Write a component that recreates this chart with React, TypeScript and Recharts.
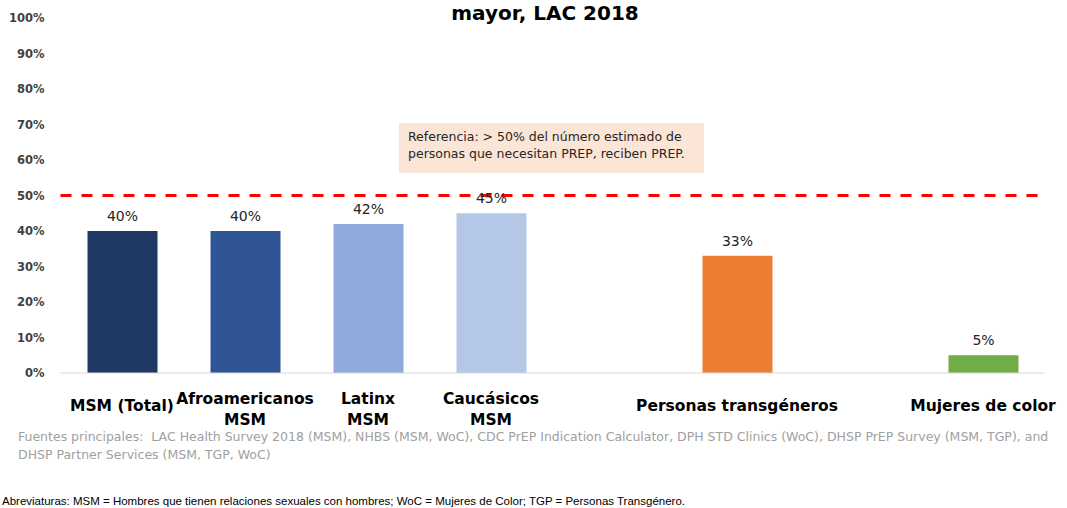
import React from 'react'
import { Bar, BarChart, Cell, LabelList, ReferenceLine, XAxis, YAxis } from 'recharts'

const categories = ['MSM (Total)', 'Afroamericanos\nMSM', 'Latinx\nMSM', 'Caucásicos\nMSM', '', 'Personas transgéneros', '', 'Mujeres de color']
const values = [40, 40, 42, 45, null, 33, null, 5]
const barColors = ['#203864', '#2F5597', '#8FAADC', '#B4C7E7', '#FFFFFF', '#ED7D31', '#FFFFFF', '#70AD47']
const yTicks = [0, 10, 20, 30, 40, 50, 60, 70, 80, 90, 100]
const target = 50

const data = categories.map((name, i) => ({ name, value: values[i] }))

const FONT = '"DejaVu Sans", Tahoma, sans-serif'

const CategoryTick = (props: any) => {
	const { x, y, payload } = props
	const lines = String(payload.value).split('\n')
	const startY = lines.length > 1 ? y + 23 : y + 30
	return (
		<text x={x} y={startY} textAnchor='middle' fill='#000' fontFamily={FONT} fontSize={15.5} fontWeight='bold'>
			{lines.map((line: string, i: number) => (
				<tspan key={i} x={x} dy={i === 0 ? 0 : 21}>{line}</tspan>
			))}
		</text>
	)
}

const App = () => {
	return (
		<div style={{ position: 'absolute', left: 0, top: 0, width: 1067, height: 508, background: '#fff', overflow: 'hidden', fontFamily: FONT }}>
			<div style={{ position: 'absolute', left: 345, width: 400, top: 3, textAlign: 'center', fontSize: 20, lineHeight: '20px', fontWeight: 'bold', color: '#000', whiteSpace: 'nowrap' }}>
				mayor, LAC 2018
			</div>
			<BarChart width={1067} height={508} data={data} margin={{ top: 18, right: 22.5, bottom: 75, left: 10.5 }} barSize={70}>
				<XAxis dataKey='name' interval={0} tickLine={false} axisLine={{ stroke: '#D9D9D9' }} height={60} tick={<CategoryTick />} />
				<YAxis domain={[0, 100]} ticks={yTicks} tickFormatter={(v) => `${v}%`} axisLine={false} tickLine={false} width={50} tickMargin={10}
					tick={{ fill: '#404040', fontSize: 11.5, fontWeight: 'bold', fontFamily: FONT }} />
				<Bar dataKey='value' isAnimationActive={false}>
					{data.map((d, i) => <Cell key={i} fill={barColors[i]} />)}
					<LabelList dataKey='value' position='top' offset={10} formatter={(v: any) => (v == null ? '' : `${v}%`)}
						style={{ fill: '#262626', fontSize: 14, fontFamily: FONT }} />
				</Bar>
				<ReferenceLine y={target} stroke='#FF0000' strokeWidth={3} strokeDasharray='11 10' />
			</BarChart>
			<div style={{ position: 'absolute', left: 399, top: 123, width: 305, height: 50, background: '#FBE5D6', boxSizing: 'border-box', padding: '5px 0 0 9px', fontSize: 12.5, lineHeight: '17px', color: '#262626', whiteSpace: 'nowrap' }}>
				Referencia: &gt; 50% del número estimado de<br />
				personas que necesitan PREP, reciben PREP.
			</div>
			<div style={{ position: 'absolute', left: 18, top: 428, fontSize: 12.5, lineHeight: '18px', color: '#A0A0A0', whiteSpace: 'nowrap' }}>
				Fuentes principales:&nbsp; LAC Health Survey 2018 (MSM), NHBS (MSM, WoC), CDC PrEP Indication Calculator, DPH STD Clinics (WoC), DHSP PrEP Survey (MSM, TGP), and<br />
				DHSP Partner Services (MSM, TGP, WoC)
			</div>
			<div style={{ position: 'absolute', left: 2, top: 494, fontSize: 11.5, lineHeight: '15px', color: '#000', whiteSpace: 'nowrap', fontFamily: '"Liberation Sans", Arial, sans-serif' }}>
				Abreviaturas: MSM = Hombres que tienen relaciones sexuales con hombres; WoC = Mujeres de Color; TGP = Personas Transgénero.
			</div>
		</div>
	)
}

export default App
